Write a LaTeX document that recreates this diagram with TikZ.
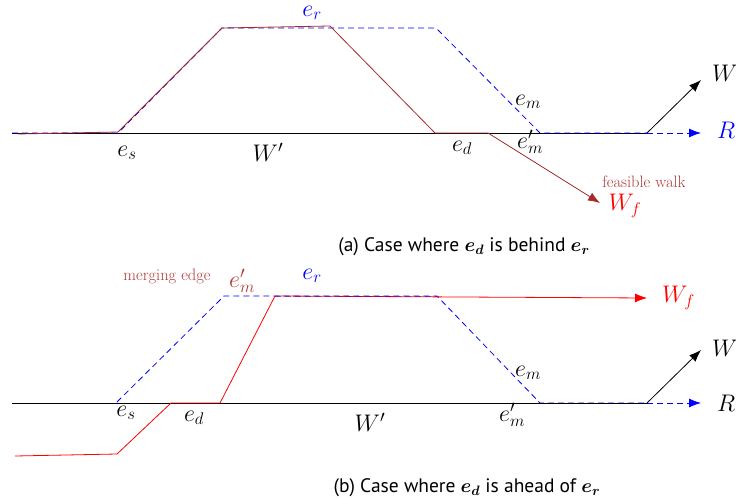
\RequirePackage{fix-cm}
\documentclass[tikz,border=0pt]{standalone}
\usepackage{fontspec}
\newfontfamily\capfont{PT Sans}
\usetikzlibrary{arrows.meta}
\definecolor{brn}{RGB}{165,42,42}
\definecolor{brnlab}{RGB}{178,58,58}
\begin{document}
\begin{tikzpicture}[x=1pt,y=-1pt,
  lab/.style={font=\fontsize{24}{28}\selectfont, inner sep=0pt},
  smalllab/.style={font=\fontsize{16.5}{19}\selectfont, inner sep=0pt, text=brnlab},
  caplab/.style={font=\capfont\fontsize{19.5}{22}\selectfont\boldmath, inner sep=0pt},
  solidline/.style={line width=0.8pt},
  dsh/.style={line width=0.8pt, blue, dash pattern=on 6pt off 4pt},
  tipped/.style={-{Latex[length=12pt,width=9pt]}}
]
\useasboundingbox (0,0) rectangle (736,503);

% ---------------- panel (a) ----------------
\coordinate (a0) at (12,133);
\coordinate (aes) at (118,133);
\coordinate (atl) at (222,28);
\coordinate (atr) at (436,28);
\coordinate (aem) at (540,133);
\coordinate (aend) at (647,133);
\coordinate (aR) at (701,133);
\coordinate (aW) at (701,80);
\coordinate (ab0) at (18,134);
\coordinate (ab1) at (118,132);
\coordinate (ab2) at (222,28);
\coordinate (ab3) at (330,26);
\coordinate (ab4) at (435,133);
\coordinate (ab5) at (488,133);
\coordinate (abf) at (600,203);

\draw[solidline] (a0) -- (aend);
\draw[solidline,tipped] (aend) -- (aW);
\draw[dsh] (a0) -- (aes) -- (atl) -- (atr) -- (aem) -- (aend);
\draw[dsh,tipped] (aend) -- (aR);
\draw[solidline,brn] (ab0) -- (ab1) -- (ab2) -- (ab3) -- (ab4) -- (ab5);
\draw[solidline,brn,tipped] (ab5) -- (abf);

\node[lab,text=blue] (aer) at (312,13) {$e_r$};
\node[lab] (aesl) at (127,153) {$e_s$};
\node[lab] (awp) at (268,152) {$W'$};
\node[lab] (aedl) at (462,148) {$e_d$};
\node[lab] (aeml) at (528,102) {$e_m$};
\node[lab] (aempl) at (530,142) {$e'_m$};
\node[lab,anchor=west] (aWl) at (712,73) {$W$};
\node[lab,anchor=west,text=blue] (aRl) at (717,130) {$R$};
\node[smalllab] (afw) at (644,182) {feasible walk};
\node[lab,text=red] (aWf) at (625,206) {$W_f$};
\node[caplab] (capa) at (464,247) {(a) Case where $e_d$ is behind $e_r$};

% ---------------- panel (b) ----------------
\coordinate (b0) at (12,403);
\coordinate (bes) at (117,402);
\coordinate (btl) at (224,296);
\coordinate (btr) at (437,296);
\coordinate (bem) at (540,403);
\coordinate (bend) at (647,403);
\coordinate (bR) at (701,403);
\coordinate (bW) at (701,350);
\coordinate (br0) at (15,456);
\coordinate (br1) at (117,454);
\coordinate (br2) at (171,403);
\coordinate (br3) at (220,403);
\coordinate (br4) at (275,296);
\coordinate (brf) at (647,298);

\draw[dsh] (bes) -- (btl) -- (btr) -- (bem) -- (bend);
\draw[dsh,tipped] (bend) -- (bR);
\draw[solidline] (b0) -- (bend);
\draw[solidline,tipped] (bend) -- (bW);
\draw[solidline,red] (br0) -- (br1) -- (br2) -- (br3) -- (br4);
\draw[solidline,red,tipped] (br4) -- (brf);
\draw[dsh,opacity=0.5] (br4) -- (btr);

\node[smalllab] (bme) at (167,276) {merging edge};
\node[lab,text=brnlab] (bempt) at (242,281) {$e'_m$};
\node[lab,text=blue] (ber) at (312,276) {$e_r$};
\node[lab] (besl) at (126,413) {$e_s$};
\node[lab] (bedl) at (194,418) {$e_d$};
\node[lab] (bwp) at (370,422) {$W'$};
\node[lab] (beml) at (528,373) {$e_m$};
\node[lab] (bempl) at (512,415) {$e'_m$};
\node[lab,anchor=west,text=red] (bWf) at (662,298) {$W_f$};
\node[lab,anchor=west] (bWl) at (712,348) {$W$};
\node[lab,anchor=west] (bRl) at (717,403) {$R$};
\node[caplab] (capb) at (467,488) {(b) Case where $e_d$ is ahead of $e_r$};
\end{tikzpicture}
\end{document}
